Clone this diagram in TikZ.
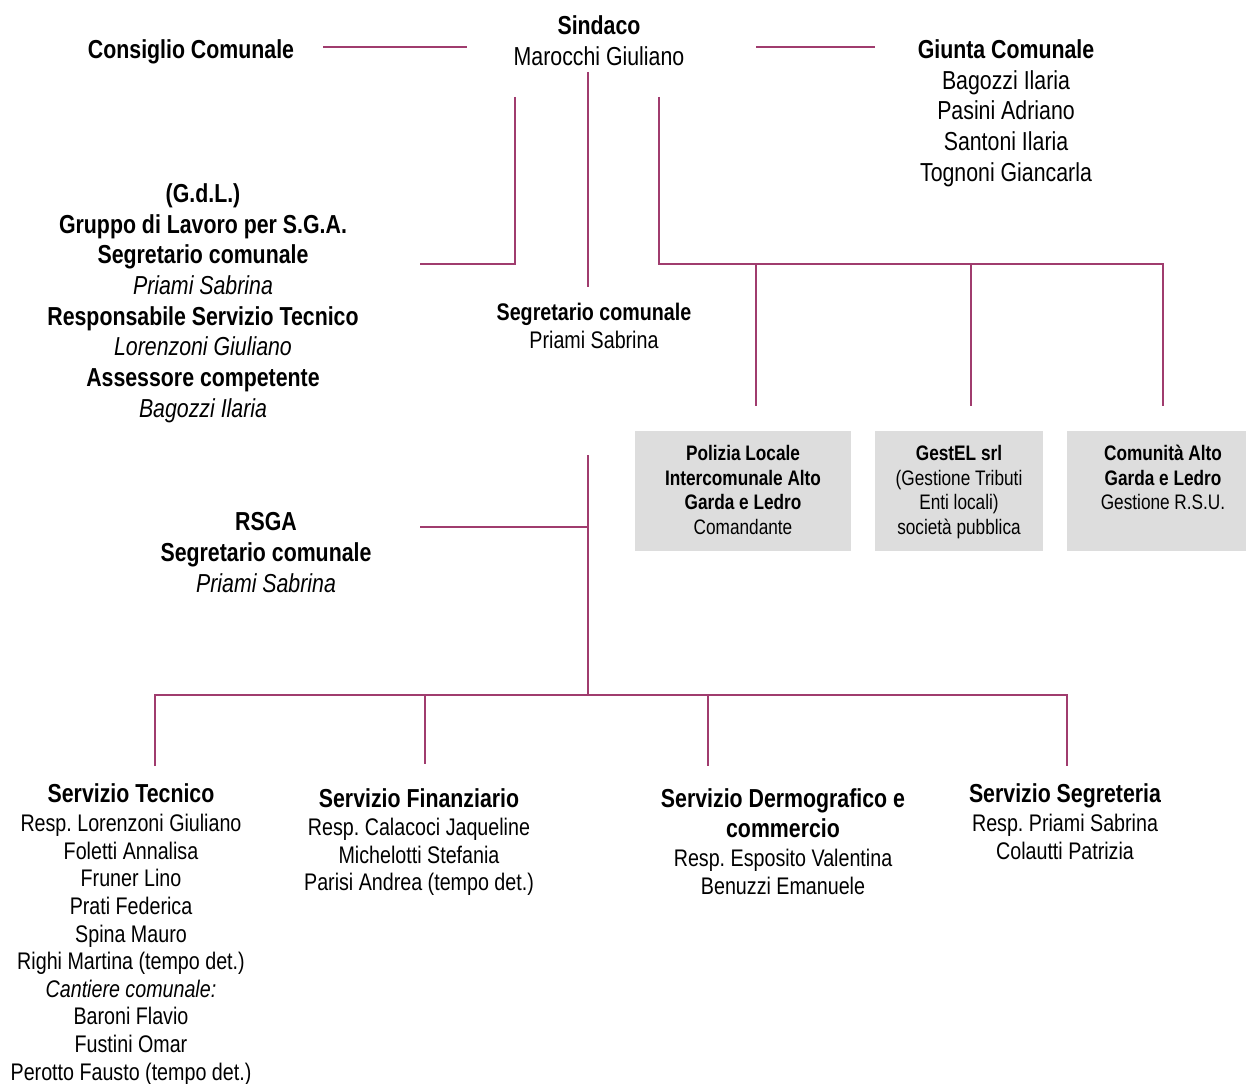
\documentclass[tikz,border=0pt]{standalone}
\usepackage{fontspec}
\setmainfont{Liberation Sans}[FakeStretch=0.82]
\frenchspacing
\definecolor{linec}{RGB}{160,60,110}
\definecolor{boxgrey}{RGB}{221,221,221}
\begin{document}
\begin{tikzpicture}[x=1pt,y=-1pt,
  conn/.style={draw=linec, line width=2pt},
  lbl/.style={align=center, inner sep=0pt, anchor=north},
  big/.style={font=\fontsize{26}{30.7}\selectfont},
  mid/.style={font=\fontsize{24}{27.6}\selectfont},
  sml/.style={font=\fontsize{21}{24.6}\selectfont},
  gbox/.style={fill=boxgrey, draw=none, inner sep=0pt}]
\useasboundingbox (0,0) rectangle (1246,1083);

% grey boxes
\node[gbox, minimum width=216pt, minimum height=120pt] (b1) at (743,491) {};
\node[gbox, minimum width=168pt, minimum height=120pt] (b2) at (959,491) {};
\node[gbox, minimum width=179pt, minimum height=120pt] (b3) at (1156.5,491) {};

% top
\node[lbl,big] (cons) at (191,39.4) {\bfseries Consiglio Comunale};
\node[lbl,big] (sind) at (599,15.4) {\textbf{Sindaco}\\Marocchi Giuliano};
\node[lbl,big] (giunta) at (1006,39.4) {\textbf{Giunta Comunale}\\Bagozzi Ilaria\\Pasini Adriano\\Santoni Ilaria\\Tognoni Giancarla};
\node[lbl,big] (gdl) at (203,183.4) {\textbf{(G.d.L.)}\\\textbf{Gruppo di Lavoro per S.G.A.}\\\textbf{Segretario comunale}\\\textit{Priami Sabrina}\\\textbf{Responsabile Servizio Tecnico}\\\textit{Lorenzoni Giuliano}\\\textbf{Assessore competente}\\\textit{Bagozzi Ilaria}};
\node[lbl,font=\fontsize{24}{28}\selectfont] (segr) at (594,303) {\textbf{Segretario comunale}\\Priami Sabrina};
\node[lbl,big] (rsga) at (266,512.4) {\textbf{RSGA}\\\textbf{Segretario comunale}\\\textit{Priami Sabrina}};

% box texts
\node[lbl,sml] (t1) at (743,445) {\textbf{Polizia Locale}\\\textbf{Intercomunale Alto}\\\textbf{Garda e Ledro}\\Comandante};
\node[lbl,sml] (t2) at (959,445) {\textbf{GestEL srl}\\(Gestione Tributi\\Enti locali)\\società pubblica};
\node[lbl,sml] (t3) at (1163,445) {\textbf{Comunità Alto}\\\textbf{Garda e Ledro}\\Gestione R.S.U.};

% bottom
\node[lbl,big] (tecT) at (131,783.4) {\bfseries Servizio Tecnico};
\node[lbl,mid] (tec) at (131,814) {Resp. Lorenzoni Giuliano\\Foletti Annalisa\\Fruner Lino\\Prati Federica\\Spina Mauro\\Righi Martina (tempo det.)\\\textit{Cantiere comunale:}\\Baroni Flavio\\Fustini Omar\\Perotto Fausto (tempo det.)};
\node[lbl,big] (finT) at (419,788.4) {\bfseries Servizio Finanziario};
\node[lbl,mid] (fin) at (419,818) {Resp. Calacoci Jaqueline\\Michelotti Stefania\\Parisi Andrea (tempo det.)};
\node[lbl,font=\fontsize{26}{30}\selectfont] (demT) at (783,788.4) {\bfseries Servizio Dermografico e\\\bfseries commercio};
\node[lbl,mid] (dem) at (783,849) {Resp. Esposito Valentina\\Benuzzi Emanuele};
\node[lbl,big] (segT) at (1065,783.4) {\bfseries Servizio Segreteria};
\node[lbl,mid] (seg) at (1065,814) {Resp. Priami Sabrina\\Colautti Patrizia};

% connector coordinates
\coordinate (c1) at (323,47); \coordinate (c2) at (467,47);
\coordinate (g1) at (756,47); \coordinate (g2) at (875,47);
\coordinate (v1t) at (515,97); \coordinate (v1b) at (515,264); \coordinate (v1e) at (420,264);
\coordinate (v2t) at (588,72); \coordinate (v2b) at (588,287);
\coordinate (v3t) at (659,97); \coordinate (v3b) at (659,264);
\coordinate (j1) at (756,264); \coordinate (j2) at (971,264); \coordinate (j3) at (1163,264);
\coordinate (d1) at (756,406); \coordinate (d2) at (971,406); \coordinate (d3) at (1163,406);
\coordinate (v4t) at (588,455); \coordinate (v4m) at (588,527); \coordinate (v4b) at (588,695);
\coordinate (r1) at (420,527);
\coordinate (h1) at (155,695); \coordinate (h2) at (425,695); \coordinate (h3) at (708,695); \coordinate (h4) at (1067,695);
\coordinate (e1) at (155,766); \coordinate (e2) at (425,764); \coordinate (e3) at (708,766); \coordinate (e4) at (1067,766);

\draw[conn] (c1) -- (c2);
\draw[conn] (g1) -- (g2);
\draw[conn] (v1t) -- (v1b) -- (v1e);
\draw[conn] (v2t) -- (v2b);
\draw[conn] (v3t) -- (v3b) -- (j3) -- (d3);
\draw[conn] (j1) -- (d1);
\draw[conn] (j2) -- (d2);
\draw[conn] (v4t) -- (v4b);
\draw[conn] (r1) -- (v4m);
\draw[conn] (e1) -- (h1) -- (h4) -- (e4);
\draw[conn] (h2) -- (e2);
\draw[conn] (h3) -- (e3);
\end{tikzpicture}
\end{document}
